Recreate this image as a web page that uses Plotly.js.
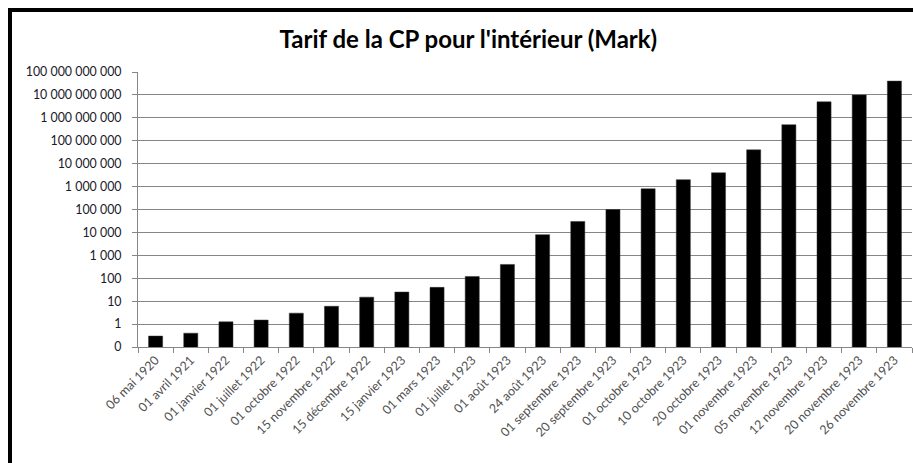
<!DOCTYPE html>
<html>
<head>
<meta charset="utf-8">
<script src="https://cdn.plot.ly/plotly-3.0.1.min.js"></script>
<style>
html,body{margin:0;padding:0;background:#fff;}
#frame{position:absolute;left:8px;top:8px;width:905px;height:455px;border-left:4px solid #000;border-top:4px solid #000;box-sizing:border-box;}
#chart{position:absolute;left:0;top:0;width:913px;height:463px;}
</style>
</head>
<body>
<div id="chart"></div>
<div id="frame"></div>
<script>
const dates = ["06 mai 1920","01 avril 1921","01 janvier 1922","01 juillet 1922","01 octobre 1922","15 novembre 1922","15 décembre 1922","15 janvier 1923","01 mars 1923","01 juillet 1923","01 août 1923","24 août 1923","01 septembre 1923","20 septembre 1923","01 octobre 1923","10 octobre 1923","20 octobre 1923","01 novembre 1923","05 novembre 1923","12 novembre 1923","20 novembre 1923","26 novembre 1923"];
const tarif = [0.3,0.4,1.25,1.5,3,6,15,25,40,120,400,8000,30000,100000,800000,2000000,4000000,40000000,500000000,5000000000,10000000000,40000000000];
const yTickVals = [0.1,1,10,100,1e3,1e4,1e5,1e6,1e7,1e8,1e9,1e10,1e11];
const yTickText = ["0","1","10","100","1 000","10 000","100 000","1 000 000","10 000 000","100 000 000","1 000 000 000","10 000 000 000","100 000 000 000"];

Plotly.newPlot('chart', [{
  type: 'bar',
  x: dates,
  y: tarif,
  marker: {color: '#000000', line: {color: '#333', width: 0.5}},
  hoverinfo: 'none'
}], {
  width: 913, height: 463,
  margin: {l: 138, r: 1, t: 72, b: 116},
  paper_bgcolor: '#fff', plot_bgcolor: '#fff',
  showlegend: false,
  bargap: 0.6,
  title: {
    text: "<b>Tarif de la CP pour l'intérieur (Mark)</b>",
    font: {family: 'Lato, "Open Sans", sans-serif', size: 24, color: '#000'},
    x: 0.513, xref: 'container', xanchor: 'center',
    y: 1 - 40/463, yref: 'container', yanchor: 'middle'
  },
  xaxis: {
    type: 'category',
    tickangle: -45,
    tickson: 'boundaries',
    ticks: 'outside', ticklen: 5, tickcolor: '#868686', tickwidth: 1,
    showline: true, linecolor: '#868686', linewidth: 1,
    showgrid: false,
    tickfont: {family: 'Lato, "Open Sans", sans-serif', size: 12.5, color: '#505050'}
  },
  yaxis: {
    type: 'log',
    range: [-1, 11],
    tickvals: yTickVals,
    ticktext: yTickText,
    ticks: 'outside', ticklen: 5, tickcolor: '#868686', tickwidth: 1,
    showline: true, linecolor: '#868686', linewidth: 1,
    showgrid: true, gridcolor: '#868686', gridwidth: 1,
    zeroline: false,
    ticklabelstandoff: 8,
    tickfont: {family: 'Lato, "Open Sans", sans-serif', size: 12.4, color: '#1a1a2a'}
  }
}, {staticPlot: true});
</script>
</body>
</html>
